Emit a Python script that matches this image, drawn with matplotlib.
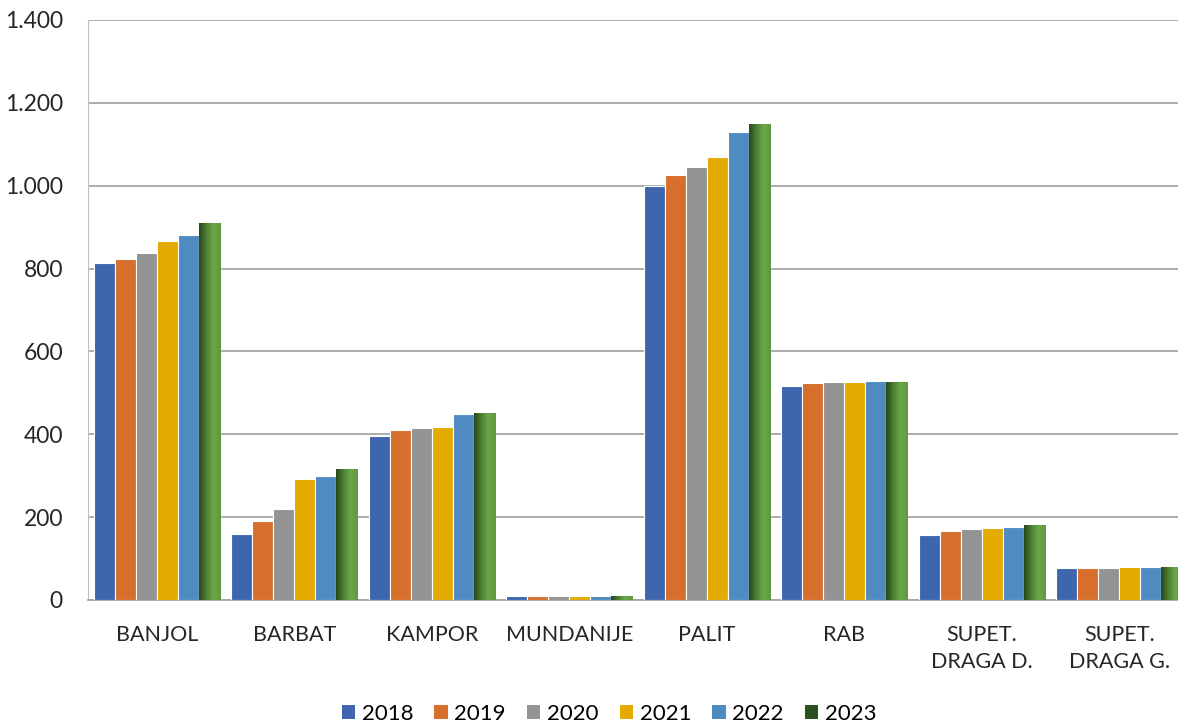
import numpy as np
import matplotlib.pyplot as plt
from matplotlib.colors import LinearSegmentedColormap
from matplotlib.patches import Patch
from matplotlib.ticker import FuncFormatter

# Data
categories = ["BANJOL", "BARBAT", "KAMPOR", "MUNDANIJE", "PALIT", "RAB",
              "SUPET.\nDRAGA D.", "SUPET.\nDRAGA G."]
years = ["2018", "2019", "2020", "2021", "2022", "2023"]
v2018 = [813, 159, 396, 10, 1000, 517, 157, 77]
v2019 = [823, 190, 410, 10, 1026, 524, 167, 77]
v2020 = [838, 220, 415, 10, 1045, 526, 171, 77]
v2021 = [867, 292, 418, 10, 1069, 526, 174, 80]
v2022 = [881, 299, 449, 10, 1130, 529, 176, 80]
v2023 = [910, 316, 451, 10, 1149, 526, 181, 80]
series = [v2018, v2019, v2020, v2021, v2022, v2023]
colors = ["#3e66ae", "#d56f2b", "#939393", "#e3aa00", "#4f8bc1", "#4a7a30"]

plt.rcParams['font.family'] = ['Lato', 'DejaVu Sans']

fig = plt.figure(figsize=(11.78, 7.25), dpi=100)
ax = fig.add_axes([88 / 1178, 125 / 725, 1100 / 1178, 580 / 725])

x = np.arange(len(categories))
w = 0.153
containers = []
for i, vals in enumerate(series):
    off = (i - 2.5) * w
    bars = ax.bar(x + off, vals, width=w, color=colors[i],
                  edgecolor="white", linewidth=0.8, zorder=3)
    containers.append(bars)

# horizontal gradient on 2023 bars
green = LinearSegmentedColormap.from_list("g", ["#2a4619", "#4c8033", "#6aa84a", "#5e9840"])
grad = np.linspace(0, 1, 64).reshape(1, -1)
for b in containers[-1]:
    bx, by = b.get_x(), b.get_y()
    bw, bh = b.get_width(), b.get_height()
    im = ax.imshow(grad, cmap=green, aspect="auto", zorder=3.5,
                   extent=[bx, bx + bw, by, by + bh], interpolation="bicubic")
    im.set_clip_path(b)

ax.set_xlim(-0.5, len(categories) - 0.5)
ax.set_ylim(0, 1400)
ax.set_yticks(range(0, 1401, 200))
ax.yaxis.set_major_formatter(FuncFormatter(lambda v, p: f"{int(v):,}".replace(",", ".")))
ax.set_xticks(x)
ax.set_xticklabels(categories, fontsize=15.5, color="#262626", linespacing=1.45)
ax.tick_params(axis="y", labelsize=16.5, colors="#262626", length=0, pad=18)
ax.tick_params(axis="x", length=0, pad=18)

ax.grid(axis="y", color="#a6a6a6", linewidth=1.3, zorder=0)
for s in ["top", "right"]:
    ax.spines[s].set_visible(False)
ax.spines["left"].set_color("#bfbfbf")
ax.spines["bottom"].set_color("#a6a6a6")
ax.spines["bottom"].set_linewidth(1.3)

handles = [Patch(facecolor=c, label=y) for c, y in zip(colors[:-1] + ["#2f5020"], years)]
fig.legend(handles=handles, loc="center", bbox_to_anchor=(609 / 1178, 1 - 714 / 725),
           ncol=6, frameon=False, fontsize=16, handlelength=0.6, handleheight=0.6,
           handletextpad=0.3, columnspacing=0.95)

fig.savefig("out.png", dpi=100)
